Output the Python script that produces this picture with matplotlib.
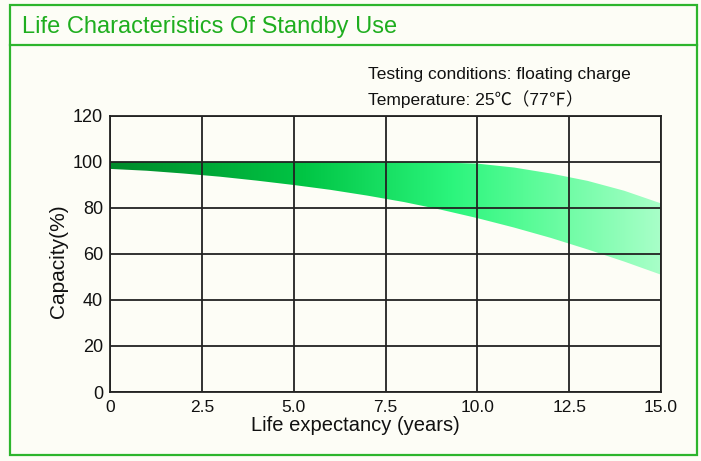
import numpy as np
import matplotlib.pyplot as plt
from matplotlib.patches import Rectangle
from matplotlib.colors import LinearSegmentedColormap

# data (capacity band, % vs years)
years = [0, 1, 2, 3, 4, 5, 6, 7, 8, 9, 10, 11, 12, 13, 14, 15]
upper = [100, 100, 100, 100, 100, 100, 100, 100, 100, 99.8, 99.3, 97.6, 95.0, 91.8, 87.5, 82]
lower = [97, 96.2, 95, 93.6, 91.9, 90, 87.9, 85.4, 82.6, 79.3, 75.6, 71.5, 67, 62, 56.7, 51]
xticks = [0, 2.5, 5.0, 7.5, 10.0, 12.5, 15.0]
xticklabels = ['0', '2.5', '5.0', '7.5', '10.0', '12.5', '15.0']
yticks = [0, 20, 40, 60, 80, 100, 120]

plt.rcParams['font.family'] = ['Liberation Sans', 'DejaVu Sans']

W, H = 701, 461
fig = plt.figure(figsize=(W / 100, H / 100), dpi=100)
fig.patch.set_facecolor('#fdfdf6')

# outer frame and title band
green = '#2db52d'
fig.patches.append(Rectangle((10 / W, 1 - 455 / H), 687 / W, 450 / H, transform=fig.transFigure,
                             fill=False, edgecolor=green, lw=1.6))
fig.lines.append(plt.Line2D([10 / W, 697 / W], [1 - 45 / H, 1 - 45 / H], transform=fig.transFigure,
                            color=green, lw=1.6))
fig.text(22 / W, 1 - 27 / H, 'Life Characteristics Of Standby Use', color='#1fae1f',
         fontsize=17, va='center', ha='left')

fig.text(368 / W, 1 - 74 / H, 'Testing conditions: floating charge', fontsize=12.5, va='center',
         color='#111111')
fig.text(368 / W, 1 - 99 / H, 'Temperature: 25\u2103\uff0877\u2109\uff09', fontsize=12.5, va='center',
         color='#111111', family=['Liberation Sans', 'Noto Sans CJK SC', 'DejaVu Sans'])

ax = fig.add_axes([110 / W, 1 - 392 / H, 551 / W, 276 / H])
ax.set_facecolor('#fdfdf6')
ax.set_xlim(0, 15)
ax.set_ylim(0, 120)

# gradient band clipped to the area between the curves
band = ax.fill_between(years, lower, upper, facecolor='none', edgecolor='none')
cmap = LinearSegmentedColormap.from_list('g', [(0, '#008a2a'), (0.35, '#00c544'), (0.62, '#2bf57c'),
                                               (0.75, '#55fb95'), (1, '#a8ffc8')])
grad = np.linspace(0, 1, 256).reshape(1, -1)
im = ax.imshow(grad, cmap=cmap, aspect='auto', extent=[0, 15, 0, 120], zorder=1)
im.set_clip_path(band.get_paths()[0], transform=ax.transData)

ax.set_xticks(xticks)
ax.set_xticklabels(xticklabels)
ax.set_yticks(yticks)
ax.grid(True, color='#222222', lw=1.3, zorder=2)
ax.set_axisbelow(False)
for s in ax.spines.values():
    s.set_color('#222222')
    s.set_linewidth(1.3)
ax.tick_params(axis='x', length=0, labelsize=12.5, pad=6, colors='#111111')
ax.tick_params(axis='y', length=0, labelsize=13, pad=5, colors='#111111')

# axis titles placed by hand, they sit close to the tick labels in the reference
ax.text(0.445, (392 - 431) / 276, 'Life expectancy (years)', transform=ax.transAxes,
        fontsize=14.5, ha='center', va='baseline', color='#111111')
ax.text((59 - 110) / 551, 0.475, 'Capacity(%)', transform=ax.transAxes, rotation=90,
        fontsize=15, ha='center', va='center', color='#111111')

fig.savefig('out.png', dpi=100, facecolor=fig.get_facecolor())
